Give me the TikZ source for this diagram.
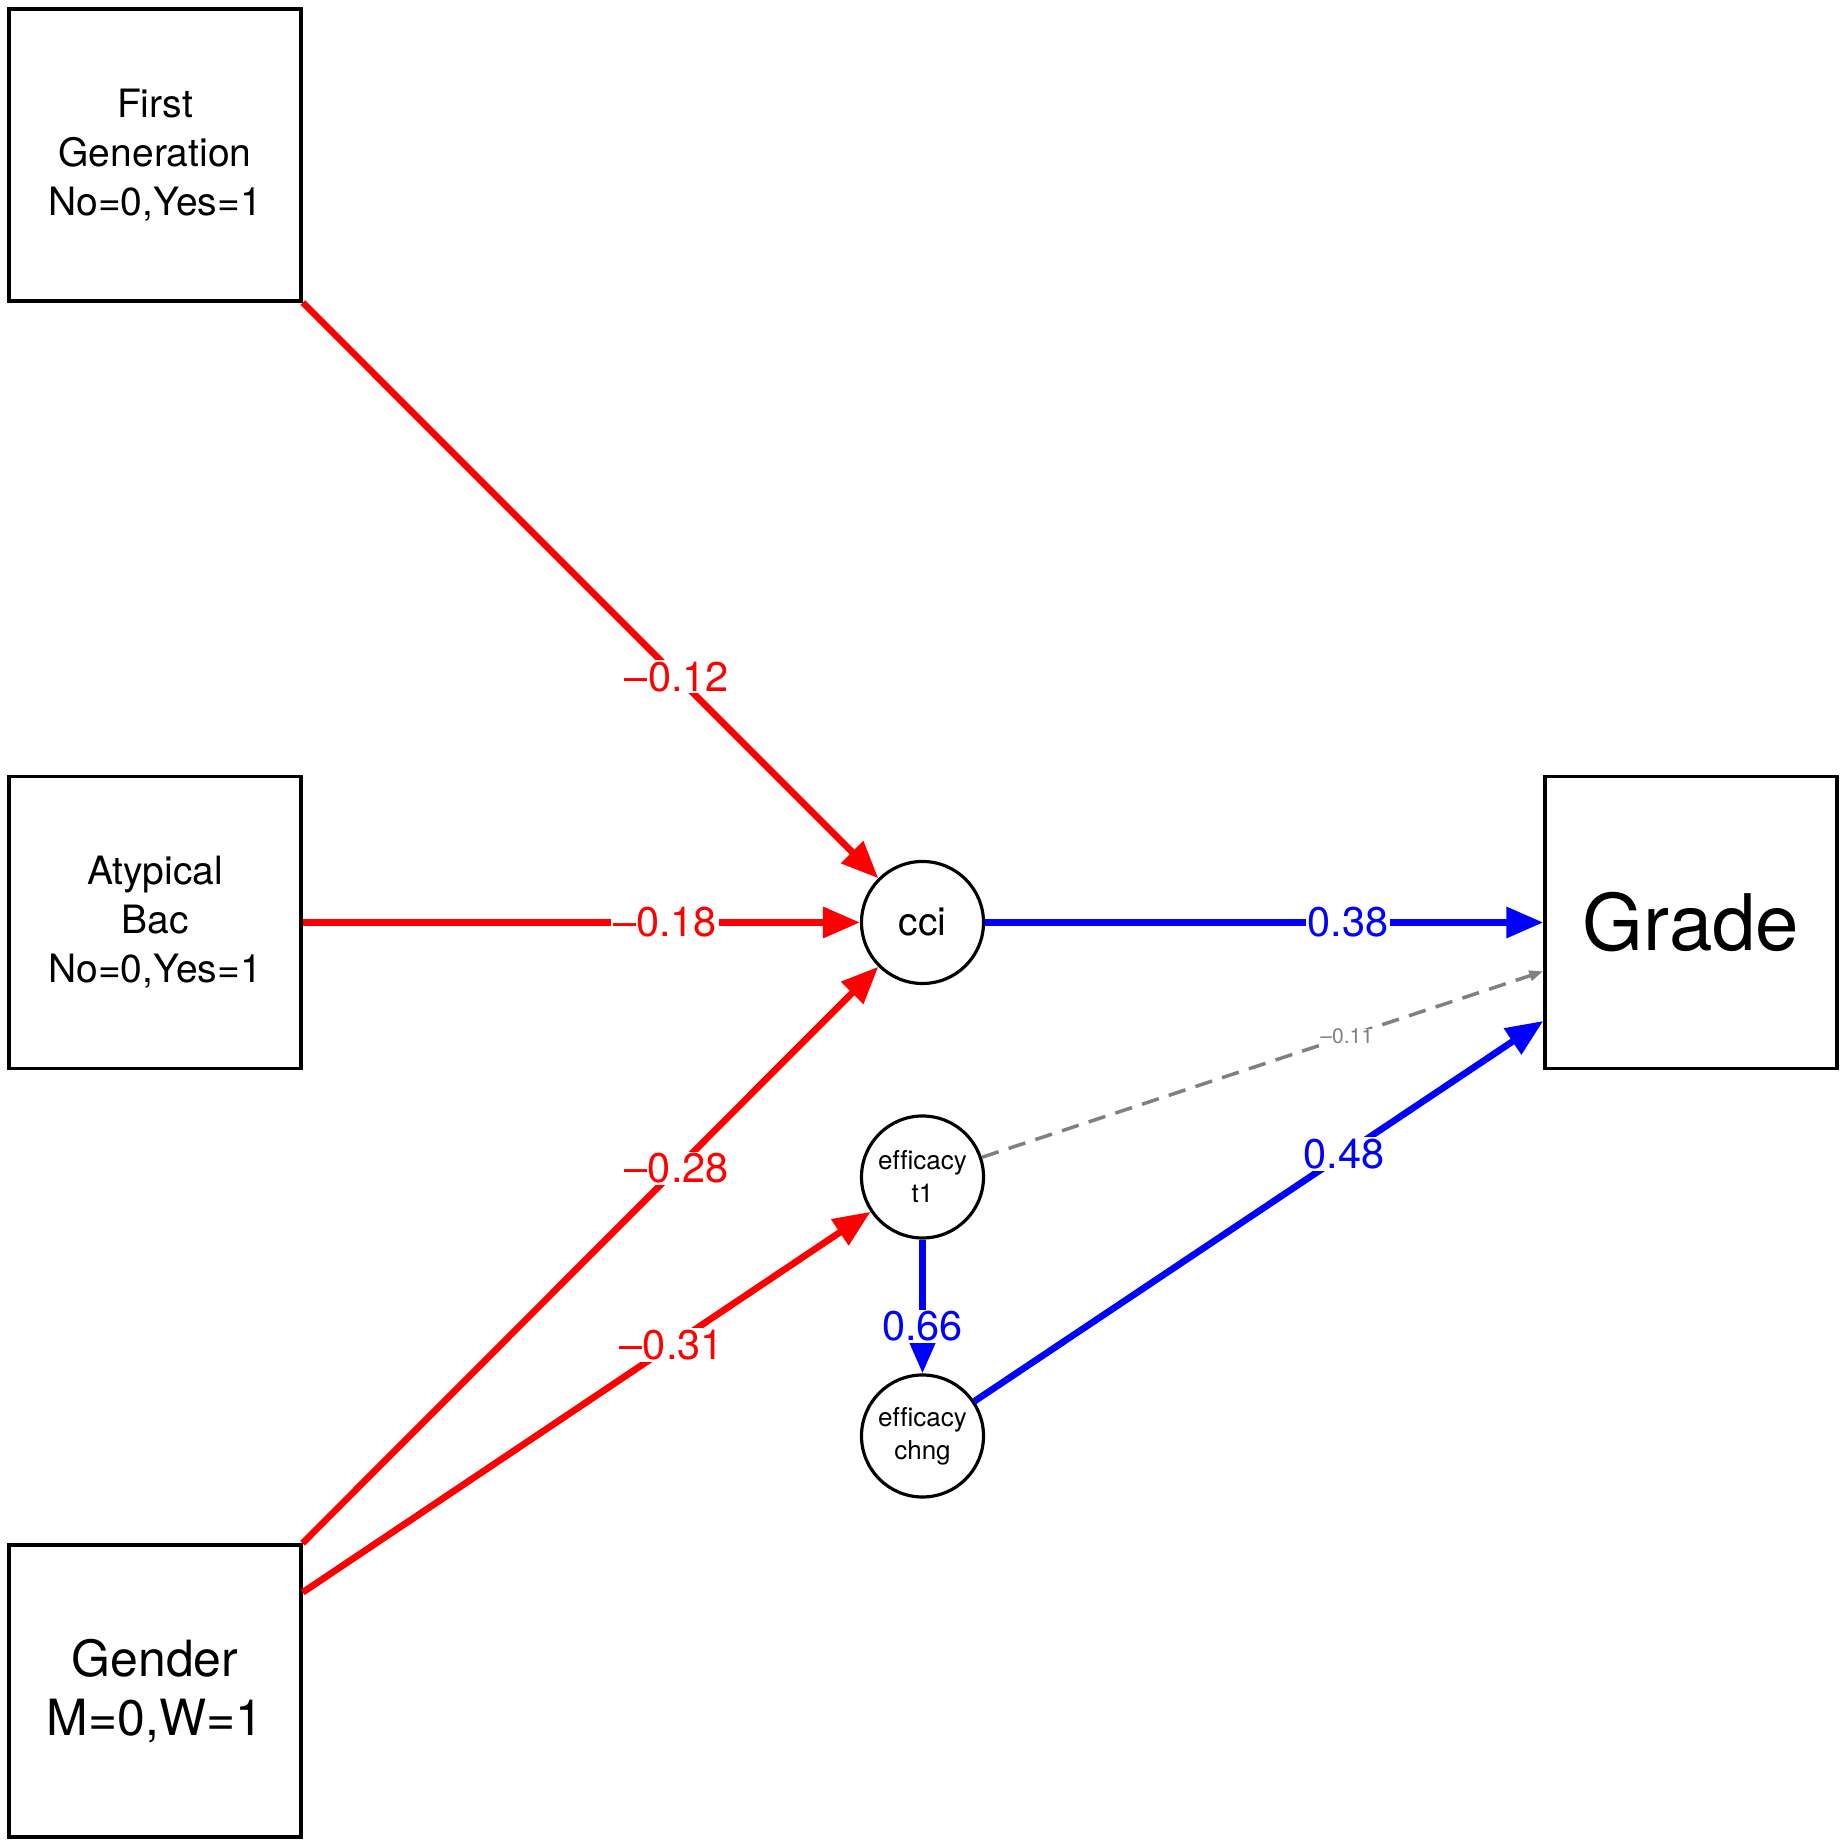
\documentclass[tikz,border=0pt]{standalone}
\usepackage{fontspec}
\setmainfont{TeX Gyre Heros}[Ligatures={TeX,NoCommon}]
\usetikzlibrary{arrows.meta}
\definecolor{pathgray}{RGB}{128,128,128}
\begin{document}
\begin{tikzpicture}[
		obs/.style={draw,line width=1pt,minimum size=2.92cm,inner sep=0pt,align=center,font=\fontsize{11.1}{13.9}\selectfont},
		lat/.style={draw,circle,line width=0.9pt,minimum size=1.22cm,inner sep=0pt,align=center},
		negpath/.style={red,line width=1.9pt,-{Triangle[length=3.7mm,width=3mm]}},
		pospath/.style={blue,line width=1.9pt,-{Triangle[length=3.7mm,width=3mm]}},
		nspath/.style={pathgray,line width=1pt,dash pattern=on 5pt off 3pt,-{Triangle[length=1.4mm,width=1mm]}},
		coef/.style={fill=white,inner sep=0.5pt,pos=0.65,font=\fontsize{11.8}{12}\selectfont}
	]
	\useasboundingbox (0,0) rectangle (18.45,18.45);
	\node[obs] (firstgen) at (1.55,16.90) {First\\Generation\\No=0,Yes=1};
	\node[obs] (atypbac) at (1.55,9.225) {Atypical\\Bac\\No=0,Yes=1};
	\node[obs,font=\fontsize{14.2}{17}\selectfont] (gender) at (1.55,1.54) {Gender\\M=0,W=1};
	\node[obs,font=\fontsize{22.2}{26}\selectfont] (grade) at (16.91,9.225) {Grade};
	\node[lat,font=\fontsize{11.1}{13}\selectfont] (cci) at (9.225,9.225) {cci};
	\node[lat,font=\fontsize{7.4}{9.4}\selectfont] (efft1) at (9.225,6.68) {efficacy\\t1};
	\node[lat,font=\fontsize{7.4}{9.4}\selectfont] (effchng) at (9.225,4.09) {efficacy\\chng};
	\draw[negpath] (firstgen) -- node[coef] {--0.12} (cci);
	\draw[negpath] (atypbac) -- node[coef] {--0.18} (cci);
	\draw[negpath] (gender) -- node[coef] {--0.28} (cci);
	\draw[negpath] (gender) -- node[coef] {--0.31} (efft1);
	\draw[pospath] (cci) -- node[coef] {0.38} (grade);
	\draw[pospath] (efft1) -- node[coef] {0.66} (effchng);
	\draw[pospath] (effchng) -- node[coef] {0.48} (grade);
	\draw[nspath] (efft1) -- node[coef,solid,inner sep=0pt,font=\fontsize{6}{7}\selectfont] {--0.11} (grade);
\end{tikzpicture}
\end{document}
